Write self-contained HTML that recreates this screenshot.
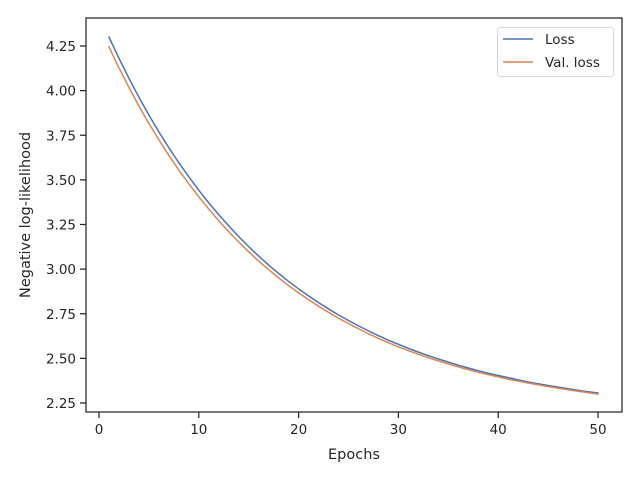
<!DOCTYPE html>
<html><head><meta charset="utf-8"><style>
html,body{margin:0;padding:0;background:#fff;}
svg{display:block;font-family:"DejaVu Sans","Liberation Sans",sans-serif;}
</style></head><body>
<svg id="chart" width="640" height="480" viewBox="0 0 640 480">
<rect width="640" height="480" fill="#fff"/>
<g id="plot"></g>
</svg>
<script>
const epochs = [1,2,3,4,5,6,7,8,9,10,11,12,13,14,15,16,17,18,19,20,21,22,23,24,25,26,27,28,29,30,31,32,33,34,35,36,37,38,39,40,41,42,43,44,45,46,47,48,49,50];
const lossValues = [4.300,4.181,4.069,3.963,3.863,3.769,3.680,3.596,3.517,3.442,3.371,3.305,3.242,3.182,3.126,3.073,3.023,2.976,2.931,2.889,2.850,2.812,2.777,2.743,2.712,2.682,2.654,2.627,2.602,2.579,2.556,2.535,2.515,2.497,2.479,2.462,2.446,2.431,2.417,2.404,2.392,2.380,2.368,2.358,2.348,2.339,2.330,2.321,2.313,2.306];
const valLossValues = [4.245,4.128,4.018,3.914,3.816,3.724,3.637,3.555,3.478,3.405,3.336,3.271,3.210,3.152,3.097,3.045,2.997,2.951,2.908,2.867,2.829,2.792,2.758,2.725,2.695,2.666,2.638,2.612,2.588,2.565,2.543,2.523,2.504,2.486,2.469,2.452,2.437,2.422,2.409,2.396,2.384,2.373,2.362,2.352,2.342,2.333,2.324,2.316,2.308,2.300];
const xTicks = [0,10,20,30,40,50];
const yTicks = [2.25,2.50,2.75,3.00,3.25,3.50,3.75,4.00,4.25];
const yTickLabels = ["2.25","2.50","2.75","3.00","3.25","3.50","3.75","4.00","4.25"];

const NS="http://www.w3.org/2000/svg";
const L=86,R=622,T=18,B=412;
const xScale=v=>99+(v-0)*(598-99)/50;
const yScale=v=>403-(v-2.25)*(403-46)/2.0;
const g=document.getElementById('plot');
function mk(tag,attrs,parent){const e=document.createElementNS(NS,tag);for(const k in attrs)e.setAttribute(k,attrs[k]);(parent||g).appendChild(e);return e;}
const ink="#262626";
// series
function series(vals,color,name){
  const d=vals.map((v,i)=>(i?'L':'M')+xScale(epochs[i]).toFixed(2)+','+yScale(v).toFixed(2)).join('');
  const p=mk('path',{d:d,fill:'none',stroke:color,'stroke-width':1.5,'stroke-linecap':'square'});
  
  
}
series(lossValues,'#4c72b0','loss-line');
series(valLossValues,'#dd8452','val-loss-line');
// frame
const fr=mk('rect',{x:L,y:T,width:R-L,height:B-T,fill:'none',stroke:ink,'stroke-width':1.25});


// x ticks
xTicks.forEach(t=>{
  const x=xScale(t);
  const ln=mk('line',{x1:x,x2:x,y1:B,y2:B+6,stroke:ink,'stroke-width':1.25});
  
  
  const tx=mk('text',{x:x,y:B+22,'text-anchor':'middle','font-size':13.5,fill:ink});
  tx.textContent=String(t);
  
  
});
yTicks.forEach((t,i)=>{
  const y=yScale(t);
  const ln=mk('line',{x1:L-6,x2:L,y1:y,y2:y,stroke:ink,'stroke-width':1.25});
  
  
  const tx=mk('text',{x:L-10,y:y+5,'text-anchor':'end','font-size':13.5,fill:ink});
  tx.textContent=yTickLabels[i];
  
  
});
const xt=mk('text',{x:(L+R)/2,y:459,'text-anchor':'middle','font-size':14.5,fill:ink});
xt.textContent='Epochs';


const yt=mk('text',{x:0,y:0,'text-anchor':'middle','font-size':14.5,fill:ink,transform:'translate(30,'+((T+B)/2)+') rotate(-90)'});
yt.textContent='Negative log-likelihood';


// legend
const lg=mk('g',{});


mk('rect',{x:497.5,y:27.5,width:116,height:49,rx:3,fill:'#fff','fill-opacity':0.8,stroke:'#d6d6d6','stroke-width':1},lg);
[['Loss','#4c72b0',39],['Val. loss','#dd8452',62]].forEach(([lab,c,y])=>{
  const e=mk('g',{},lg);
  
  
  mk('line',{x1:503,x2:533,y1:y,y2:y,stroke:c,'stroke-width':1.5},e);
  const tx=mk('text',{x:545,y:y+5,'font-size':13.5,fill:ink},e);
  tx.textContent=lab;
});
</script>
</body></html>
